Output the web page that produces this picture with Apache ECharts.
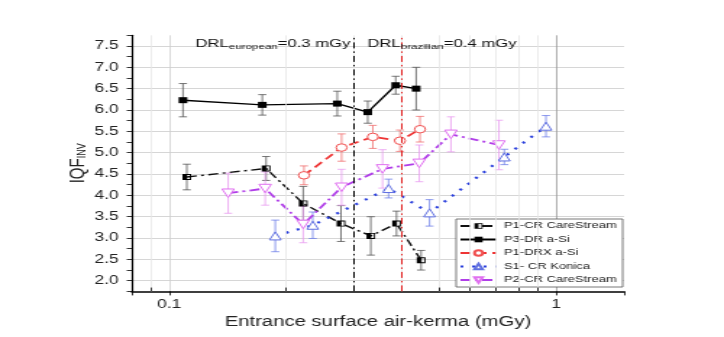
<!DOCTYPE html>
<html>
<head>
<meta charset="utf-8">
<script src="https://cdn.jsdelivr.net/npm/echarts@6/dist/echarts.min.js"></script>
<style>
    html, body { margin: 0; padding: 0; background: #fff; overflow: hidden; }
    /* the source picture is stretched sideways, so the chart is too */
    #main { width: 500px; height: 337px; transform: scaleX(1.448); transform-origin: 0 0; }
</style>
</head>
<body>
<div id="main"></div>
<script>
var seriesNames = ['P1-CR CareStream', 'P3-DR a-Si', 'P1-DRX a-Si', 'S1- CR Konica', 'P2-CR CareStream'];

var p1crX = [0.111, 0.178, 0.222, 0.278, 0.332, 0.387, 0.448];
var p1crY = [4.43, 4.63, 3.81, 3.34, 3.05, 3.34, 2.48];
var p1crErr = [0.30, 0.28, 0.40, 0.42, 0.45, 0.29, 0.23];

var p3drX = [0.1085, 0.174, 0.272, 0.326, 0.385, 0.435];
var p3drY = [6.23, 6.12, 6.15, 5.95, 6.58, 6.50];
var p3drErr = [0.39, 0.24, 0.29, 0.26, 0.21, 0.50];

var p1drxX = [0.223, 0.279, 0.336, 0.395, 0.445];
var p1drxY = [4.47, 5.12, 5.37, 5.28, 5.55];
var p1drxErr = [0.22, 0.32, 0.27, 0.25, 0.30];

var s1crX = [0.188, 0.235, 0.369, 0.471, 0.735, 0.942];
var s1crY = [3.05, 3.30, 4.16, 3.59, 4.90, 5.62];
var s1crErr = [0.37, 0.31, 0.22, 0.31, 0.18, 0.25];

var p2crX = [0.142, 0.177, 0.222, 0.279, 0.356, 0.443, 0.535, 0.712];
var p2crY = [4.05, 4.16, 3.32, 4.19, 4.62, 4.75, 5.43, 5.18];
var p2crErr = [0.47, 0.39, 0.43, 0.42, 0.45, 0.43, 0.41, 0.58];

var drlValues = [0.3, 0.4];
var minorGridX = [0.09, 0.2, 0.3, 0.4, 0.5, 0.6, 0.7, 0.8, 0.9];
var xLabels = [0.1, 1];

var font = "'Liberation Sans', Arial, sans-serif";

function pairs(xs, ys) {
    return xs.map(function (x, i) { return [x, ys[i]]; });
}

function triples(xs, ys, es) {
    return xs.map(function (x, i) { return [x, ys[i], es[i]]; });
}

function errorBars(name, xs, ys, es, color) {
    return {
        name: name + ' err',
        type: 'custom',
        z: 1,
        silent: true,
        encode: { x: 0, y: 1 },
        data: triples(xs, ys, es),
        renderItem: function (params, api) {
            var x = api.value(0), y = api.value(1), e = api.value(2);
            var top = api.coord([x, y + e]);
            var bot = api.coord([x, y - e]);
            var hw = 2.8;
            var style = { stroke: color, lineWidth: 0.8 };
            return {
                type: 'group',
                children: [
                    { type: 'line', shape: { x1: top[0], y1: top[1], x2: bot[0], y2: bot[1] }, style: style },
                    { type: 'line', shape: { x1: top[0] - hw, y1: top[1], x2: top[0] + hw, y2: top[1] }, style: style },
                    { type: 'line', shape: { x1: bot[0] - hw, y1: bot[1], x2: bot[0] + hw, y2: bot[1] }, style: style }
                ]
            };
        }
    };
}

var gridLines = minorGridX.map(function (v) {
    return { xAxis: v, lineStyle: { color: '#e6e6e6', width: 0.8, type: 'solid' } };
});
var minorTicks = minorGridX.map(function (v) {
    return [
        { coord: [v, 1.75], lineStyle: { color: '#000', width: 0.8, type: 'solid' } },
        { coord: [v, 1.84] }
    ];
});

var myChart = echarts.init(document.getElementById('main'));
myChart.setOption({
    animation: false,
    textStyle: { fontFamily: font },
    grid: { left: 91, right: 69, top: 35.3, bottom: 45.6 },
    legend: {
        data: seriesNames,
        orient: 'vertical',
        left: 315,
        top: 219,
        padding: [2, 4, 2, 2],
        itemWidth: 25,
        itemHeight: 7,
        itemGap: 3.5,
        backgroundColor: '#fff',
        borderColor: '#555',
        borderWidth: 0.8,
        textStyle: { fontSize: 9, color: '#222', lineHeight: 10, fontFamily: font }
    },
    xAxis: {
        type: 'log',
        logBase: 10,
        min: 0.08,
        max: 1.5,
        name: 'Entrance surface air-kerma (mGy)',
        nameLocation: 'middle',
        nameGap: 24,
        nameTextStyle: { fontSize: 14, color: '#222', fontFamily: font },
        axisLine: { show: true, onZero: false, lineStyle: { color: '#000', width: 1.5 } },
        axisTick: { show: true, length: 4, lineStyle: { color: '#000', width: 0.8 } },
        axisLabel: {
            margin: 7,
            fontSize: 12,
            color: '#222',
            formatter: function (v) {
                for (var i = 0; i < xLabels.length; i++) {
                    if (Math.abs(v - xLabels[i]) < 1e-6) return String(xLabels[i]);
                }
                return '';
            }
        },
        splitLine: { show: true, showMinLine: false, showMaxLine: false, lineStyle: { color: ['#cfcfcf', '#9a9a9a'], width: 0.8 } }
    },
    yAxis: {
        type: 'value',
        min: 1.75,
        max: 7.75,
        interval: 0.25,
        name: 'IQF{s|INV}',
        nameLocation: 'middle',
        nameRotate: 90,
        nameGap: 30,
        nameMoveOverlap: false,
        nameTextStyle: {
            fontSize: 15,
            color: '#222',
            fontFamily: font,
            rich: { s: { fontSize: 9, padding: [6, 0, 0, 0], color: '#222', fontFamily: font } }
        },
        axisLine: { show: true, lineStyle: { color: '#000', width: 1.2 } },
        axisTick: { show: true, length: 3.5, lineStyle: { color: '#000', width: 0.8 } },
        axisLabel: {
            margin: 9,
            fontSize: 12,
            color: '#222',
            formatter: function (v) {
                return Math.abs(v * 2 - Math.round(v * 2)) < 1e-6 ? v.toFixed(1) : '';
            }
        },
        splitLine: { show: true, showMinLine: false, showMaxLine: false, lineStyle: { color: ['#d6d6d6', 'rgba(0,0,0,0)'], width: 1 } }
    },
    graphic: [
        {
            type: 'text', left: 135, top: 38, z: 10,
            style: {
                text: '{m|DRL}{s|european}{m|=0.3 mGy}',
                rich: {
                    m: { fontSize: 11.5, fill: '#111', fontFamily: font, lineHeight: 14 },
                    s: { fontSize: 8, fill: '#111', fontFamily: font, padding: [6, 0, 0, 0] }
                }
            }
        },
        {
            type: 'text', left: 253.7, top: 38, z: 10,
            style: {
                text: '{m|DRL}{s|brazilian}{m|=0.4 mGy}',
                rich: {
                    m: { fontSize: 11.5, fill: '#111', fontFamily: font, lineHeight: 14 },
                    s: { fontSize: 8, fill: '#111', fontFamily: font, padding: [6, 0, 0, 0] }
                }
            }
        }
    ],
    series: [
        {
            name: 'grid',
            type: 'line',
            data: [],
            z: 0,
            markLine: {
                silent: true,
                symbol: ['none', 'none'],
                label: { show: false },
                data: gridLines.concat(minorTicks)
            }
        },
        errorBars('P1-CR CareStream', p1crX, p1crY, p1crErr, '#555'),
        errorBars('P3-DR a-Si', p3drX, p3drY, p3drErr, '#555'),
        errorBars('P1-DRX a-Si', p1drxX, p1drxY, p1drxErr, '#f07070'),
        errorBars('S1- CR Konica', s1crX, s1crY, s1crErr, '#7080e8'),
        errorBars('P2-CR CareStream', p2crX, p2crY, p2crErr, '#e89cf0'),
        {
            name: 'P1-CR CareStream',
            type: 'line',
            z: 3,
            data: pairs(p1crX, p1crY),
            symbol: 'path://M0,0L10,0L10,10L0,10Z M5,1.5L5,8.5L8.5,8.5L8.5,1.5Z',
            symbolSize: 6,
            itemStyle: { color: '#000' },
            lineStyle: { color: '#111', width: 1.4, type: [7, 3, 2, 3] },
            markLine: {
                silent: true,
                symbol: ['none', 'none'],
                label: { show: false },
                data: [
                    { xAxis: drlValues[0], lineStyle: { color: '#000', width: 1, type: [6, 3, 1.5, 3] } },
                    { xAxis: drlValues[1], lineStyle: { color: '#e02020', width: 1, type: [6, 3, 1.5, 3] } }
                ]
            }
        },
        {
            name: 'P3-DR a-Si',
            type: 'line',
            z: 3,
            data: pairs(p3drX, p3drY),
            symbol: 'rect',
            symbolSize: 6,
            itemStyle: { color: '#000' },
            lineStyle: { color: '#000', width: 1.4 }
        },
        {
            name: 'P1-DRX a-Si',
            type: 'line',
            z: 3,
            data: pairs(p1drxX, p1drxY),
            symbol: 'circle',
            symbolSize: 7.5,
            itemStyle: { color: '#fff', borderColor: '#f05050', borderWidth: 1 },
            lineStyle: { color: '#ee3434', width: 1.8, type: [7, 4] }
        },
        {
            name: 'S1- CR Konica',
            type: 'line',
            z: 3,
            data: pairs(s1crX, s1crY),
            symbol: 'triangle',
            symbolSize: 8,
            itemStyle: { color: '#fff', borderColor: '#6070e0', borderWidth: 1 },
            lineStyle: { color: '#2a3fdc', width: 2.2, type: [2, 6] }
        },
        {
            name: 'P2-CR CareStream',
            type: 'line',
            z: 3,
            data: pairs(p2crX, p2crY),
            symbol: 'path://M0,0L10,0L5,9Z',
            symbolSize: 8.5,
            itemStyle: { color: '#fff', borderColor: '#e070f0', borderWidth: 1 },
            lineStyle: { color: '#b03ee8', width: 1.8, type: [7, 3, 2, 3] }
        }
    ]
});
</script>
</body>
</html>
